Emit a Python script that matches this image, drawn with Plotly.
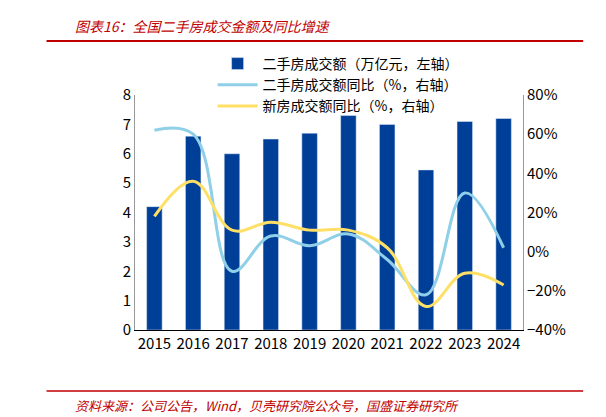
import plotly.graph_objects as go

years = ["2015","2016","2017","2018","2019","2020","2021","2022","2023","2024"]
amount = [4.2, 6.6, 6.0, 6.5, 6.7, 7.3, 7.0, 5.45, 7.1, 7.2]
second_yoy = [62, 60, -10, 8, 3, 9, -4, -22, 30, 2]
new_yoy = [18, 36, 11, 15, 11, 11, 2, -28, -11, -17]

F = "Noto Sans CJK SC"
fig = go.Figure()
fig.add_trace(go.Bar(x=years, y=amount, name="二手房成交额（万亿元，左轴）",
                     marker_color="#003f98", width=0.4))
fig.add_trace(go.Scatter(x=years, y=second_yoy, name="二手房成交额同比（%，右轴）", yaxis="y2",
                         mode="lines", line=dict(color="#8fcfe8", width=3, shape="spline", smoothing=1.1)))
fig.add_trace(go.Scatter(x=years, y=new_yoy, name="新房成交额同比（%，右轴）", yaxis="y2",
                         mode="lines", line=dict(color="#ffe066", width=3, shape="spline", smoothing=1.1)))

fig.update_layout(
    width=606, height=417, margin=dict(l=127, r=91, t=87, b=95),
    paper_bgcolor="white", plot_bgcolor="white",
    font=dict(family=F, size=15, color="black"),
    showlegend=True, bargap=0.6,
    legend=dict(x=0.2, y=1.2, xanchor="left", yanchor="top", bgcolor="rgba(0,0,0,0)",
                font=dict(size=14), tracegroupgap=0, itemwidth=40),
    xaxis=dict(showline=True, linecolor="black", ticks="", tickfont=dict(size=15)),
    yaxis=dict(range=[0, 8], dtick=1, showgrid=False, showline=True, linecolor="#999",
               ticks="", zeroline=False),
    yaxis2=dict(range=[-40, 80], dtick=20, overlaying="y", side="right", showgrid=False,
                showline=True, linecolor="#999", ticksuffix="%", zeroline=False),
    shapes=[
        dict(type="line", xref="paper", yref="paper", x0=-0.228, x1=1.155, y0=1.23, y1=1.23,
             line=dict(color="#c00000", width=2)),
        dict(type="line", xref="paper", yref="paper", x0=-0.228, x1=1.155, y0=-0.26, y1=-0.26,
             line=dict(color="#c00000", width=1.5)),
    ],
    annotations=[
        dict(text="<i>图表16：全国二手房成交金额及同比增速</i>", xref="paper", yref="paper",
             x=-0.16, y=1.294, xanchor="left", yanchor="middle", showarrow=False,
             font=dict(color="#c00000", size=14, family=F)),
        dict(text="<i>资料来源：公司公告，Wind，贝壳研究院公众号，国盛证券研究所</i>", xref="paper", yref="paper",
             x=-0.16, y=-0.323, xanchor="left", yanchor="middle", showarrow=False,
             font=dict(color="#c00000", size=13, family=F)),
    ],
)
fig.write_html("out.html")
